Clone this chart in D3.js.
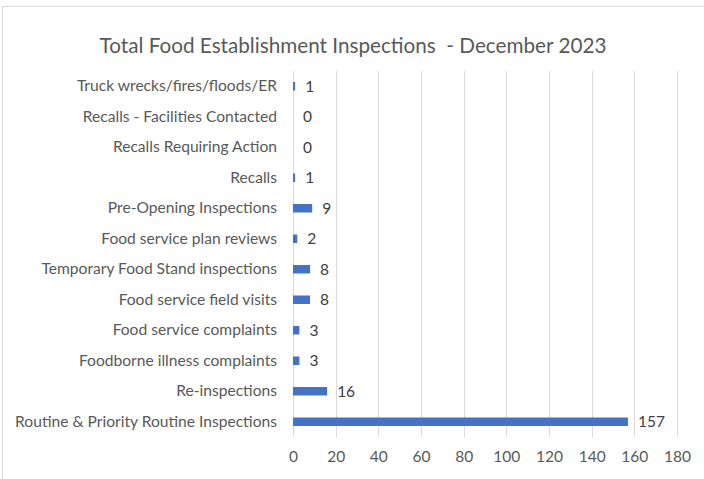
<!DOCTYPE html>
<html><head><meta charset="utf-8">
<script src="https://cdn.jsdelivr.net/npm/d3@7"></script>
<style>
html,body{margin:0;padding:0;background:#fff;}
svg{display:block;}
</style></head>
<body>
<script>
const categories = [
  "Truck wrecks/fires/floods/ER",
  "Recalls - Facilities Contacted",
  "Recalls Requiring Action",
  "Recalls",
  "Pre-Opening Inspections",
  "Food service plan reviews",
  "Temporary Food Stand inspections",
  "Food service field visits",
  "Food service complaints",
  "Foodborne illness complaints",
  "Re-inspections",
  "Routine & Priority Routine Inspections"
];
const values = [1, 0, 0, 1, 9, 2, 8, 8, 3, 3, 16, 157];
const xTicks = [0, 20, 40, 60, 80, 100, 120, 140, 160, 180];
const title = "Total Food Establishment Inspections  - December 2023";

const W = 704, H = 479;
const font = "Lato, 'Open Sans', sans-serif";
const textColor = "#595959";

const svg = d3.select("body").append("svg").attr("width", W).attr("height", H);

// chart border
svg.append("rect").attr("x", 2.5).attr("y", 6.5).attr("width", W + 10).attr("height", H + 10)
  .attr("fill", "#fff").attr("stroke", "#d9d9d9").attr("stroke-width", 1);

const x = d3.scaleLinear().domain([0, 180]).range([293, 677]);
const y = d3.scaleBand().domain(categories).range([71, 437]).paddingInner(0.72).paddingOuter(0.36);

// gridlines
svg.append("g").selectAll("line").data(xTicks).join("line")
  .attr("x1", d => Math.round(x(d)) + 0.5).attr("x2", d => Math.round(x(d)) + 0.5)
  .attr("y1", 71).attr("y2", 437)
  .attr("stroke", "#d9d9d9").attr("stroke-width", 1);

// x axis tick labels
const xAxis = d3.axisBottom(x).tickValues(xTicks).tickSize(0).tickPadding(0);
const gx = svg.append("g").attr("transform", "translate(0,451)").call(xAxis);
gx.select(".domain").remove();
gx.selectAll("text").attr("fill", textColor).style("font-family", font).style("font-size", "15.5px")
  .attr("dy", "0.71em");

// y axis labels
const yAxis = d3.axisLeft(y).tickSize(0).tickPadding(16);
const gy = svg.append("g").attr("transform", "translate(293,0)").call(yAxis);
gy.select(".domain").remove();
gy.selectAll("text").attr("fill", textColor).style("font-family", font).style("font-size", "15.6px");

// bars
svg.append("g").selectAll("rect").data(values).join("rect")
  .attr("x", x(0))
  .attr("y", (d, i) => y(categories[i]) + y.bandwidth() / 2 - 4.25)
  .attr("width", d => x(d) - x(0))
  .attr("height", 8.5)
  .attr("fill", "#4472C4");

// data labels
svg.append("g").selectAll("text").data(values).join("text")
  .attr("x", d => x(d) + 10)
  .attr("y", (d, i) => y(categories[i]) + y.bandwidth() / 2)
  .attr("dy", "0.35em")
  .attr("fill", "#404040")
  .style("font-family", font).style("font-size", "15.5px")
  .text(d => d);

// title
svg.append("text").attr("x", 353).attr("y", 53).attr("text-anchor", "middle")
  .attr("fill", textColor).style("font-family", font).style("font-size", "20.7px")
  .style("white-space", "pre").attr("xml:space", "preserve")
  .text(title);
</script>
</body></html>
